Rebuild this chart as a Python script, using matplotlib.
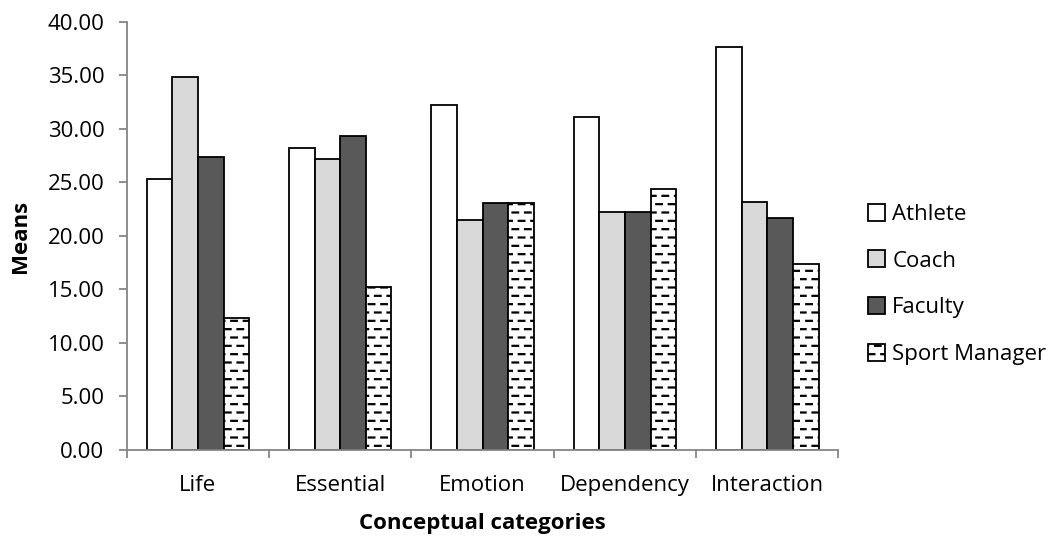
import numpy as np
import matplotlib
matplotlib.use("Agg")
import matplotlib.pyplot as plt
import matplotlib.hatch as mhatch
from matplotlib.path import Path


categories = ['Life', 'Essential', 'Emotion', 'Dependency', 'Interaction']
groups = ['Athlete', 'Coach', 'Faculty', 'Sport Manager']

athlete = [25.3, 28.2, 32.2, 31.1, 37.7]
coach = [34.9, 27.2, 21.5, 22.2, 23.2]
faculty = [27.4, 29.3, 23.1, 22.2, 21.7]
sport_manager = [12.3, 15.2, 23.1, 24.4, 17.4]

yticks = [0, 5, 10, 15, 20, 25, 30, 35, 40]


class DashHatch(mhatch.HatchPatternBase):
    """short staggered horizontal dashes (Excel 'dashed horizontal' fill)"""
    rows = 12
    cols = 8
    dash = 0.45

    def __init__(self, hatch, density):
        n = hatch.count('-')
        self.num_vertices = 2 * self.rows * self.cols if n else 0

    def set_vertices_and_codes(self, vertices, codes):
        k = 0
        for r in range(self.rows):
            y = (r + 0.5) / self.rows
            shift = 0.5 if r % 2 else 0.0
            for c in range(self.cols):
                x0 = (c + shift) / self.cols
                x1 = x0 + self.dash / self.cols
                vertices[k] = (x0, y)
                vertices[k + 1] = (x1, y)
                codes[k] = Path.MOVETO
                codes[k + 1] = Path.LINETO
                k += 2


# only one fill pattern is needed here
mhatch._hatch_types = [DashHatch]

plt.rcParams['font.family'] = ['Open Sans', 'DejaVu Sans']
plt.rcParams['hatch.linewidth'] = 1.6

FS = 16

fig = plt.figure(figsize=(10.56, 5.4), dpi=100)
ax = fig.add_axes([0.120, 0.1667, 0.674, 0.7926])

x = np.arange(len(categories))
w = 0.18
series = [athlete, coach, faculty, sport_manager]
fills = ['white', '#d9d9d9', '#595959', 'white']
hatches = [None, None, None, '-']

for i, (vals, fc, h) in enumerate(zip(series, fills, hatches)):
    ax.bar(x + (i - 1.5) * w, vals, w, color=fc, edgecolor='black',
           linewidth=1.3, hatch=h, label=groups[i], zorder=2)

ax.set_xlim(-0.5, len(categories) - 0.5)
ax.set_ylim(0, 40)
ax.set_yticks(yticks)
ax.set_yticklabels(['%.2f' % v for v in yticks])
ax.set_xticks(x)
ax.set_xticklabels(categories)
ax.set_xticks(np.arange(-0.5, len(categories)), minor=True)
ax.tick_params(axis='x', which='major', length=0, pad=18, labelsize=FS)
ax.tick_params(axis='x', which='minor', length=6, width=1.3, color='#868686')
ax.tick_params(axis='y', length=6, width=1.3, color='#868686', labelsize=FS, pad=10)

for s in ['top', 'right']:
    ax.spines[s].set_visible(False)
for s in ['left', 'bottom']:
    ax.spines[s].set_color('#868686')
    ax.spines[s].set_linewidth(1.3)

ax.set_xlabel('Conceptual categories', fontsize=FS, fontweight='bold', labelpad=12)
ax.set_ylabel('Means', fontsize=FS, fontweight='bold', labelpad=12)

ax.legend(loc='center left', bbox_to_anchor=(1.013, 0.387), frameon=False,
          fontsize=FS, handlelength=0.8, handleheight=0.8, handletextpad=0.3,
          labelspacing=1.15)

fig.savefig('out.png', dpi=100)
